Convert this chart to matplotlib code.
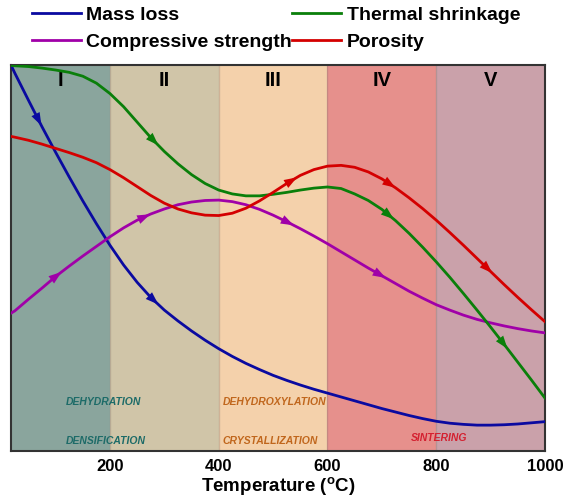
import numpy as np
import matplotlib.pyplot as plt

plt.rcParams['font.family'] = ['Liberation Sans', 'DejaVu Sans']
plt.rcParams['mathtext.fontset'] = 'custom'
plt.rcParams['mathtext.rm'] = 'Liberation Sans:bold'

# temperature grid (degC) and relative property levels (0-100)
temp = [18, 25, 50, 75, 100, 125, 150, 175, 200, 225, 250, 275, 300, 325,
        350, 375, 400, 425, 450, 475, 500, 525, 550, 575, 600, 625, 650,
        675, 700, 725, 750, 775, 800, 825, 850, 875, 900, 925, 950, 975, 1000]
mass_loss = [100.0, 97.9, 90.9, 84.0, 77.4, 71.0, 64.8, 58.9, 53.3, 48.2, 43.7, 39.8, 36.5, 33.7,
             31.1, 28.7, 26.5, 24.5, 22.7, 21.1, 19.6, 18.3, 17.1, 16.0, 15.0, 14.0, 13.0,
             12.0, 11.0, 10.1, 9.2, 8.4, 7.7, 7.2, 6.9, 6.7, 6.7, 6.8, 7.0, 7.3, 7.6]
shrinkage = [99.9, 99.8, 99.6, 99.2, 98.7, 98.1, 97.1, 95.3, 92.6, 89.2, 85.2, 81.2, 77.6, 74.4,
             71.6, 69.3, 67.6, 66.6, 66.1, 66.1, 66.5, 67.0, 67.6, 68.1, 68.4, 68.0, 66.6,
             64.9, 62.6, 59.7, 56.4, 52.8, 49.0, 45.0, 40.8, 36.5, 32.1, 27.6, 23.0, 18.4, 13.7]
porosity = [81.5, 81.3, 80.5, 79.5, 78.4, 77.3, 76.1, 74.7, 72.9, 70.8, 68.5, 66.2, 64.2, 62.7,
            61.7, 61.1, 61.0, 61.6, 62.9, 64.8, 67.0, 69.3, 71.4, 72.9, 73.8, 74.0, 73.5,
            72.3, 70.5, 68.2, 65.6, 62.8, 59.8, 56.6, 53.3, 49.9, 46.5, 43.1, 39.8, 36.6, 33.5]
strength = [35.7, 36.3, 39.3, 42.2, 45.2, 47.9, 50.5, 53.0, 55.5, 57.8, 59.8, 61.4, 62.7, 63.8,
            64.5, 64.9, 65.0, 64.6, 63.8, 62.6, 61.1, 59.4, 57.6, 55.7, 53.7, 51.6, 49.5,
            47.4, 45.4, 43.4, 41.4, 39.6, 37.9, 36.5, 35.2, 34.1, 33.2, 32.4, 31.7, 31.1, 30.6]

# arrow positions along each curve
arrows_mass = [74, 289]
arrows_shrink = [289, 722, 931]
arrows_poro = [544, 725, 903]
arrows_strength = [111, 274, 538, 707]

stage_edges = [18, 200, 400, 600, 800, 1000]
stage_names = ['I', 'II', 'III', 'IV', 'V']
stage_colors = ['#8aa59d', '#d0c5a8', '#f4d1ab', '#e6908c', '#caa1aa']

fig = plt.figure(figsize=(5.63, 4.99), dpi=100)
ax = fig.add_axes([11 / 563, 1 - 451 / 499, 534 / 563, 386 / 499])

for i, name in enumerate(stage_names):
    lo, hi = stage_edges[i], stage_edges[i + 1]
    ax.axvspan(lo, hi, color=stage_colors[i], zorder=0, lw=0)
    ax.text((lo + hi) / 2, 96, name, ha='center', va='center',
            fontsize=14.5, fontweight='bold', color='black')
for e in stage_edges[1:-1]:
    ax.axvline(e, color='#8a7a70', lw=1, alpha=0.35, zorder=0.5)


def curve(y, color, label, arrow_at):
    ax.plot(temp, y, color=color, lw=2, label=label, zorder=3)
    for t in arrow_at:
        y1 = np.interp(t, temp, y)
        y0 = np.interp(t - 8, temp, y)
        ax.annotate('', xy=(t, y1), xytext=(t - 8, y0),
                    arrowprops=dict(arrowstyle='-|>,head_length=0.85,head_width=0.3',
                                    color=color, lw=0, shrinkA=0, shrinkB=0,
                                    mutation_scale=11), zorder=4)


curve(mass_loss, '#0a0aa0', 'Mass loss', arrows_mass)
curve(strength, '#a000a8', 'Compressive strength', arrows_strength)
curve(shrinkage, '#0a7f0a', 'Thermal shrinkage', arrows_shrink)
curve(porosity, '#d40000', 'Porosity', arrows_poro)

ax.text(119, 12.7, 'DEHYDRATION', color='#1d6b68', fontsize=7.5,
        fontweight='bold', style='italic', va='center')
ax.text(119, 2.6, 'DENSIFICATION', color='#1d6b68', fontsize=7.5,
        fontweight='bold', style='italic', va='center')
ax.text(407, 12.7, 'DEHYDROXYLATION', color='#c0661c', fontsize=7.5,
        fontweight='bold', style='italic', va='center')
ax.text(407, 2.6, 'CRYSTALLIZATION', color='#c0661c', fontsize=7.5,
        fontweight='bold', style='italic', va='center')
ax.text(805, 3.4, 'SINTERING', color='#d42030', fontsize=7.5,
        fontweight='bold', style='italic', va='center', ha='center')

ax.set_xlim(18, 1000)
ax.set_ylim(0, 100)
ax.set_yticks([])
ax.set_xticks([200, 400, 600, 800, 1000])
ax.tick_params(axis='x', length=0, pad=6, labelsize=12)
for lab in ax.get_xticklabels():
    lab.set_fontweight('bold')
ax.set_xlabel(r'Temperature ($^{\rm o}$C)', fontsize=13.5, fontweight='bold', labelpad=1)
for s in ax.spines.values():
    s.set_color('#333333')
    s.set_linewidth(1.5)

handles, labels = ax.get_legend_handles_labels()
fig.legend(handles, labels, ncol=2, loc='upper left', bbox_to_anchor=(28 / 563, 1 - 2 / 499),
           frameon=False, prop={'weight': 'bold', 'size': 14},
           handlelength=2.5, handletextpad=0.3, columnspacing=0.0,
           labelspacing=0.5, borderpad=0.2, borderaxespad=0)

fig.savefig('out.png', dpi=100)
